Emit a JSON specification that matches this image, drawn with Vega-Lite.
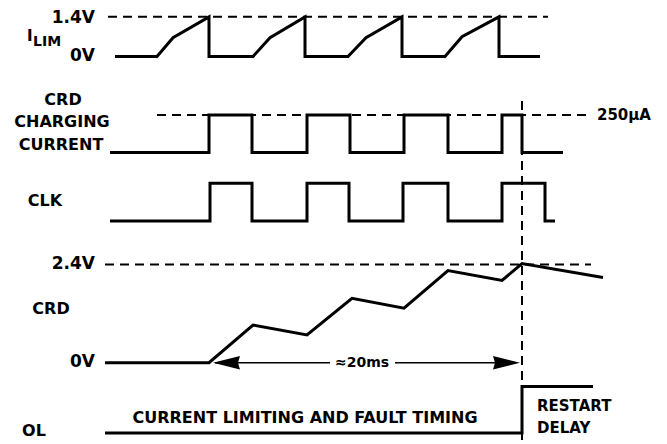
{
  "$schema": "https://vega.github.io/schema/vega-lite/v6.json",
  "width": 667,
  "height": 444,
  "autosize": {"type": "fit", "contains": "padding"},
  "padding": 0,
  "background": "white",
  "config": {"view": {"stroke": null}},
  "datasets": {
    "signals": [
      {"s": "ILIM", "i": 1, "x": 115, "y": 57}, {"s": "ILIM", "i": 2, "x": 157, "y": 57}, {"s": "ILIM", "i": 3, "x": 173, "y": 38}, {"s": "ILIM", "i": 4, "x": 209, "y": 17}, {"s": "ILIM", "i": 5, "x": 209, "y": 57},
      {"s": "ILIM", "i": 6, "x": 253, "y": 57}, {"s": "ILIM", "i": 7, "x": 270, "y": 38}, {"s": "ILIM", "i": 8, "x": 305, "y": 17}, {"s": "ILIM", "i": 9, "x": 305, "y": 57},
      {"s": "ILIM", "i": 10, "x": 348, "y": 57}, {"s": "ILIM", "i": 11, "x": 366, "y": 38}, {"s": "ILIM", "i": 12, "x": 402, "y": 17}, {"s": "ILIM", "i": 13, "x": 402, "y": 57},
      {"s": "ILIM", "i": 14, "x": 445, "y": 57}, {"s": "ILIM", "i": 15, "x": 462, "y": 37}, {"s": "ILIM", "i": 16, "x": 499, "y": 17}, {"s": "ILIM", "i": 17, "x": 499, "y": 57}, {"s": "ILIM", "i": 18, "x": 540, "y": 57},
      {"s": "CHG", "i": 1, "x": 110, "y": 154}, {"s": "CHG", "i": 2, "x": 209, "y": 154}, {"s": "CHG", "i": 3, "x": 209, "y": 116}, {"s": "CHG", "i": 4, "x": 252, "y": 116}, {"s": "CHG", "i": 5, "x": 252, "y": 154},
      {"s": "CHG", "i": 6, "x": 307, "y": 154}, {"s": "CHG", "i": 7, "x": 307, "y": 116}, {"s": "CHG", "i": 8, "x": 350, "y": 116}, {"s": "CHG", "i": 9, "x": 350, "y": 154},
      {"s": "CHG", "i": 10, "x": 404, "y": 154}, {"s": "CHG", "i": 11, "x": 404, "y": 116}, {"s": "CHG", "i": 12, "x": 448, "y": 116}, {"s": "CHG", "i": 13, "x": 448, "y": 154},
      {"s": "CHG", "i": 14, "x": 502, "y": 154}, {"s": "CHG", "i": 15, "x": 502, "y": 116}, {"s": "CHG", "i": 16, "x": 522, "y": 116}, {"s": "CHG", "i": 17, "x": 522, "y": 154}, {"s": "CHG", "i": 18, "x": 563, "y": 154},
      {"s": "CLK", "i": 1, "x": 110, "y": 223}, {"s": "CLK", "i": 2, "x": 210, "y": 223}, {"s": "CLK", "i": 3, "x": 210, "y": 185}, {"s": "CLK", "i": 4, "x": 252, "y": 185}, {"s": "CLK", "i": 5, "x": 252, "y": 223},
      {"s": "CLK", "i": 6, "x": 307, "y": 223}, {"s": "CLK", "i": 7, "x": 307, "y": 185}, {"s": "CLK", "i": 8, "x": 349, "y": 185}, {"s": "CLK", "i": 9, "x": 349, "y": 223},
      {"s": "CLK", "i": 10, "x": 403, "y": 223}, {"s": "CLK", "i": 11, "x": 403, "y": 185}, {"s": "CLK", "i": 12, "x": 448, "y": 185}, {"s": "CLK", "i": 13, "x": 448, "y": 223},
      {"s": "CLK", "i": 14, "x": 502, "y": 223}, {"s": "CLK", "i": 15, "x": 502, "y": 185}, {"s": "CLK", "i": 16, "x": 545, "y": 185}, {"s": "CLK", "i": 17, "x": 545, "y": 223}, {"s": "CLK", "i": 18, "x": 555, "y": 223},
      {"s": "CRD", "i": 1, "x": 105, "y": 366}, {"s": "CRD", "i": 2, "x": 209, "y": 366}, {"s": "CRD", "i": 3, "x": 253, "y": 328}, {"s": "CRD", "i": 4, "x": 307, "y": 338}, {"s": "CRD", "i": 5, "x": 352, "y": 301},
      {"s": "CRD", "i": 6, "x": 404, "y": 311}, {"s": "CRD", "i": 7, "x": 448, "y": 273}, {"s": "CRD", "i": 8, "x": 502, "y": 283}, {"s": "CRD", "i": 9, "x": 522, "y": 266}, {"s": "CRD", "i": 10, "x": 603, "y": 280},
      {"s": "OL", "i": 1, "x": 105, "y": 437}, {"s": "OL", "i": 2, "x": 522, "y": 437}, {"s": "OL", "i": 3, "x": 522, "y": 390}, {"s": "OL", "i": 4, "x": 593, "y": 390}
    ],
    "refs": [
      {"s": "r14", "i": 1, "x": 108, "y": 17}, {"s": "r14", "i": 2, "x": 548, "y": 17},
      {"s": "r250", "i": 1, "x": 157, "y": 116}, {"s": "r250", "i": 2, "x": 592, "y": 116},
      {"s": "r24", "i": 1, "x": 105, "y": 267}, {"s": "r24", "i": 2, "x": 591, "y": 267},
      {"s": "vt", "i": 1, "x": 522, "y": 102}, {"s": "vt", "i": 2, "x": 522, "y": 444}
    ],
    "arrowline": [
      {"s": "a1", "i": 1, "x": 215, "y": 366}, {"s": "a1", "i": 2, "x": 330, "y": 366},
      {"s": "a2", "i": 1, "x": 395, "y": 366}, {"s": "a2", "i": 2, "x": 515, "y": 366}
    ],
    "heads": [
      {"dir": "left", "x": 226.5, "y": 366},
      {"dir": "right", "x": 506.5, "y": 366}
    ],
    "labelsRight": [
      {"t": "1.4V", "x": 95, "y": 18, "fs": 17},
      {"t": "0V", "x": 95, "y": 57, "fs": 17},
      {"t": "2.4V", "x": 95, "y": 266, "fs": 17},
      {"t": "0V", "x": 95, "y": 365, "fs": 17}
    ],
    "labelsCenter": [
      {"t": "CRD", "x": 63, "y": 101, "fs": 16},
      {"t": "CHARGING", "x": 62, "y": 123, "fs": 16},
      {"t": "CURRENT", "x": 61, "y": 146, "fs": 16},
      {"t": "CLK", "x": 45, "y": 203, "fs": 16},
      {"t": "CRD", "x": 51, "y": 312, "fs": 16},
      {"t": "OL", "x": 34, "y": 435, "fs": 16},
      {"t": "≈20ms", "x": 362, "y": 366, "fs": 14},
      {"t": "CURRENT LIMITING AND FAULT TIMING", "x": 305, "y": 422, "fs": 16}
    ],
    "labelsLeft": [
      {"t": "I", "x": 27, "y": 36, "fs": 15},
      {"t": "LIM", "x": 33, "y": 42, "fs": 14},
      {"t": "250µA", "x": 597, "y": 116, "fs": 15},
      {"t": "RESTART", "x": 537, "y": 410, "fs": 15},
      {"t": "DELAY", "x": 537, "y": 432, "fs": 15}
    ]
  },
  "encoding": {
    "x": {"field": "x", "type": "quantitative", "scale": {"domain": [0, 667], "nice": false, "zero": false}, "axis": null},
    "y": {"field": "y", "type": "quantitative", "scale": {"domain": [0, 444], "nice": false, "zero": false, "reverse": true}, "axis": null}
  },
  "layer": [
    {
      "data": {"name": "refs"},
      "mark": {"type": "line", "color": "black", "strokeWidth": 2, "strokeDash": [9, 6], "strokeCap": "butt"},
      "encoding": {"detail": {"field": "s"}, "order": {"field": "i", "type": "quantitative"}}
    },
    {
      "data": {"name": "signals"},
      "mark": {"type": "line", "color": "black", "strokeWidth": 3, "strokeCap": "butt", "strokeJoin": "miter"},
      "encoding": {"detail": {"field": "s"}, "order": {"field": "i", "type": "quantitative"}}
    },
    {
      "data": {"name": "arrowline"},
      "mark": {"type": "line", "color": "black", "strokeWidth": 1.5, "strokeCap": "butt"},
      "encoding": {"detail": {"field": "s"}, "order": {"field": "i", "type": "quantitative"}}
    },
    {
      "data": {"name": "heads"},
      "mark": {"type": "point", "filled": true, "color": "black", "opacity": 1, "size": 729},
      "encoding": {
        "shape": {"field": "dir", "type": "nominal", "scale": {"domain": ["left", "right"], "range": ["M-1,0L1,-0.5L0.85,0L1,0.5Z", "M1,0L-1,-0.5L-0.85,0L-1,0.5Z"]}, "legend": null}
      }
    },
    {
      "data": {"name": "labelsRight"},
      "mark": {"type": "text", "align": "right", "baseline": "middle", "font": "DejaVu Sans", "fontWeight": "bold", "color": "black"},
      "encoding": {"text": {"field": "t"}, "size": {"field": "fs", "type": "quantitative", "scale": null}}
    },
    {
      "data": {"name": "labelsCenter"},
      "mark": {"type": "text", "align": "center", "baseline": "middle", "font": "DejaVu Sans", "fontWeight": "bold", "color": "black"},
      "encoding": {"text": {"field": "t"}, "size": {"field": "fs", "type": "quantitative", "scale": null}}
    },
    {
      "data": {"name": "labelsLeft"},
      "mark": {"type": "text", "align": "left", "baseline": "middle", "font": "DejaVu Sans", "fontWeight": "bold", "color": "black"},
      "encoding": {"text": {"field": "t"}, "size": {"field": "fs", "type": "quantitative", "scale": null}}
    }
  ]
}
